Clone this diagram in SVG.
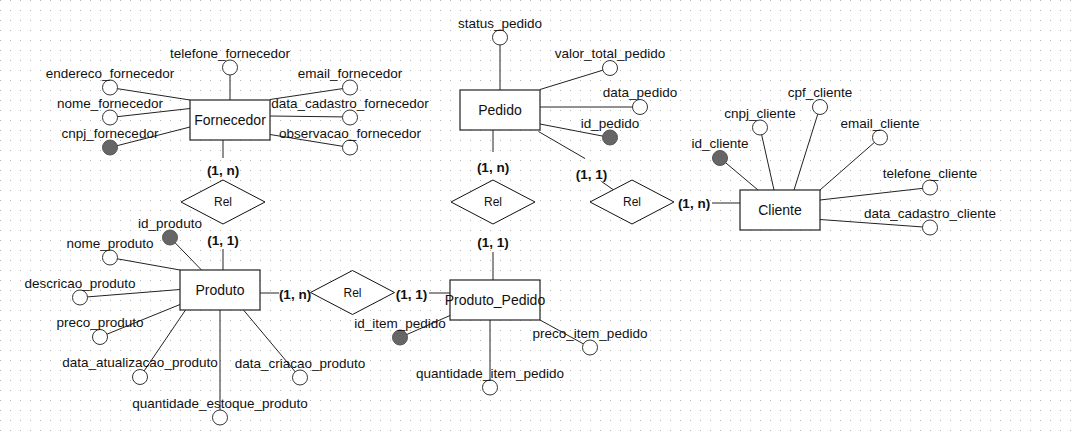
<svg xmlns="http://www.w3.org/2000/svg" width="1075" height="439" viewBox="0 0 1075 439">
<defs>
<pattern id="grid" width="10" height="10" patternUnits="userSpaceOnUse">
<rect x="0" y="0" width="1" height="1" fill="#b4b4b4"/>
</pattern>
<style>
.ln{stroke:#222;stroke-width:1;fill:none}
.box{fill:#fff;stroke:#222;stroke-width:1.2}
.dia{fill:#fff;stroke:#111;stroke-width:1}
.att{fill:#fff;stroke:#333;stroke-width:1}
.key{fill:#666;stroke:#555;stroke-width:1}
text{font-family:"Liberation Sans",Arial,sans-serif;fill:#111}
.al{font-size:13.5px;text-anchor:middle}
.en{font-size:14px;text-anchor:middle}
.rl{font-size:12px;text-anchor:middle}
.cd{font-size:13.5px;font-weight:bold;text-anchor:middle}
</style>
</defs>
<rect width="1075" height="439" fill="#fff"/>
<rect width="1075" height="439" fill="url(#grid)"/>

<g id="connectors">
<!-- relationship lines -->
<line class="ln" x1="223" y1="140" x2="223" y2="158"/>
<line class="ln" x1="223" y1="249" x2="223" y2="270"/>
<line class="ln" x1="260" y1="293" x2="279" y2="293"/>
<line class="ln" x1="429" y1="293" x2="450" y2="293"/>
<line class="ln" x1="493" y1="130" x2="493" y2="152"/>
<line class="ln" x1="493" y1="252" x2="493" y2="280"/>
<line class="ln" x1="538.5" y1="131.5" x2="585" y2="158.5"/>
<line class="ln" x1="601.5" y1="181.5" x2="613" y2="189.5"/>
<line class="ln" x1="712" y1="203" x2="740" y2="203"/>
<!-- Fornecedor attributes -->
<line class="ln" x1="230" y1="67.5" x2="230" y2="100"/>
<line class="ln" x1="110" y1="87.5" x2="190" y2="100"/>
<line class="ln" x1="110" y1="117.5" x2="190" y2="108.5"/>
<line class="ln" x1="110" y1="147.5" x2="190" y2="127"/>
<line class="ln" x1="350" y1="87.5" x2="270" y2="99.5"/>
<line class="ln" x1="350" y1="117" x2="270" y2="116"/>
<line class="ln" x1="350" y1="147.5" x2="270" y2="134.5"/>
<!-- Pedido attributes -->
<line class="ln" x1="500" y1="37.5" x2="500" y2="90"/>
<line class="ln" x1="610" y1="68" x2="540" y2="89.5"/>
<line class="ln" x1="640" y1="107" x2="540" y2="107"/>
<line class="ln" x1="610" y1="137.5" x2="540" y2="124"/>
<!-- Cliente attributes -->
<line class="ln" x1="720" y1="158" x2="758" y2="190"/>
<line class="ln" x1="760" y1="127.5" x2="774" y2="190"/>
<line class="ln" x1="820" y1="107" x2="794" y2="190"/>
<line class="ln" x1="880" y1="137.5" x2="820" y2="190"/>
<line class="ln" x1="930" y1="187.5" x2="820" y2="200"/>
<line class="ln" x1="930" y1="227.5" x2="820" y2="219.5"/>
<!-- Produto attributes -->
<line class="ln" x1="170" y1="237.5" x2="201.5" y2="270"/>
<line class="ln" x1="110" y1="257.5" x2="180" y2="270"/>
<line class="ln" x1="80" y1="297.5" x2="180" y2="289.5"/>
<line class="ln" x1="100" y1="337" x2="180" y2="304.5"/>
<line class="ln" x1="140" y1="377" x2="185.5" y2="310"/>
<line class="ln" x1="220" y1="417.5" x2="220" y2="310"/>
<line class="ln" x1="300" y1="377.5" x2="243.5" y2="310"/>
<!-- Produto_Pedido attributes -->
<line class="ln" x1="400" y1="337.5" x2="450" y2="315.5"/>
<line class="ln" x1="490" y1="387.5" x2="490" y2="320"/>
<line class="ln" x1="590" y1="347.5" x2="540" y2="320"/>
<!-- cardinalities -->
<text class="cd" x="223" y="175">(1, n)</text>
<text class="cd" x="223" y="244.5">(1, 1)</text>
<text class="cd" x="295" y="299">(1, n)</text>
<text class="cd" x="411.5" y="299">(1, 1)</text>
<text class="cd" x="493" y="171.5">(1, n)</text>
<text class="cd" x="493" y="247">(1, 1)</text>
<text class="cd" x="591.5" y="178.5">(1, 1)</text>
<text class="cd" x="694" y="208">(1, n)</text>
</g>

<g id="fornecedor">
<rect class="box" x="190" y="100" width="80" height="40"/>
<text class="en" x="230" y="125">Fornecedor</text>
</g>
<g id="fornecedor-attrs">
<circle class="att" cx="230" cy="67.5" r="7.5"/><text class="al" x="230" y="57.5">telefone_fornecedor</text>
<circle class="att" cx="110" cy="87.5" r="7.5"/><text class="al" x="110" y="77.5">endereco_fornecedor</text>
<circle class="att" cx="110" cy="117.5" r="7.5"/><text class="al" x="110" y="107.5">nome_fornecedor</text>
<circle class="key" cx="110" cy="147.5" r="7.5"/><text class="al" x="110" y="137.5">cnpj_fornecedor</text>
<circle class="att" cx="350" cy="87.5" r="7.5"/><text class="al" x="350" y="77.5">email_fornecedor</text>
<circle class="att" cx="350" cy="117.5" r="7.5"/><text class="al" x="350" y="107.5">data_cadastro_fornecedor</text>
<circle class="att" cx="350" cy="147.5" r="7.5"/><text class="al" x="350" y="137.5">observacao_fornecedor</text>
</g>

<g id="rel1">
<polygon class="dia" points="181,202 223,180 265,202 223,224"/>
<text class="rl" x="223" y="206">Rel</text>
</g>

<g id="produto">
<rect class="box" x="180" y="270" width="80" height="40"/>
<text class="en" x="220" y="295">Produto</text>
</g>
<g id="produto-attrs">
<circle class="key" cx="170" cy="237.5" r="7.5"/><text class="al" x="170" y="227.5">id_produto</text>
<circle class="att" cx="110" cy="257.5" r="7.5"/><text class="al" x="110" y="247.5">nome_produto</text>
<circle class="att" cx="80" cy="297.5" r="7.5"/><text class="al" x="80" y="287.5">descricao_produto</text>
<circle class="att" cx="100" cy="337" r="7.5"/><text class="al" x="100" y="327">preco_produto</text>
<circle class="att" cx="140" cy="377" r="7.5"/><text class="al" x="140" y="367">data_atualizacao_produto</text>
<circle class="att" cx="220" cy="417.5" r="7.5"/><text class="al" x="220" y="407.5">quantidade_estoque_produto</text>
<circle class="att" cx="300" cy="377.5" r="7.5"/><text class="al" x="300" y="367.5">data_criacao_produto</text>
</g>

<g id="rel4">
<polygon class="dia" points="310.5,292.5 352.5,270.5 394.5,292.5 352.5,314.5"/>
<text class="rl" x="352.5" y="296.5">Rel</text>
</g>

<g id="produto_pedido">
<rect class="box" x="450" y="280" width="90" height="40"/>
<text class="en" x="495" y="305">Produto_Pedido</text>
</g>
<g id="produto_pedido-attrs">
<circle class="key" cx="400" cy="337.5" r="7.5"/><text class="al" x="400" y="327.5">id_item_pedido</text>
<circle class="att" cx="490" cy="387.5" r="7.5"/><text class="al" x="490" y="377.5">quantidade_item_pedido</text>
<circle class="att" cx="590" cy="347.5" r="7.5"/><text class="al" x="590" y="337.5">preco_item_pedido</text>
</g>

<g id="rel2">
<polygon class="dia" points="451,202 493,180 535,202 493,224"/>
<text class="rl" x="493" y="206">Rel</text>
</g>

<g id="pedido">
<rect class="box" x="460" y="90" width="80" height="40"/>
<text class="en" x="500" y="115">Pedido</text>
</g>
<g id="pedido-attrs">
<circle class="att" cx="500" cy="37.5" r="7.5"/><text class="al" x="500" y="27.5">status_pedido</text>
<circle class="att" cx="610" cy="68" r="7.5"/><text class="al" x="610" y="58">valor_total_pedido</text>
<circle class="att" cx="640" cy="107" r="7.5"/><text class="al" x="640" y="97">data_pedido</text>
<circle class="key" cx="610" cy="137.5" r="7.5"/><text class="al" x="610" y="127.5">id_pedido</text>
</g>

<g id="rel3">
<polygon class="dia" points="590,202 632,180 674,202 632,224"/>
<text class="rl" x="632" y="206">Rel</text>
</g>

<g id="cliente">
<rect class="box" x="740" y="190" width="80" height="40"/>
<text class="en" x="780" y="215">Cliente</text>
</g>
<g id="cliente-attrs">
<circle class="key" cx="720" cy="158" r="7.5"/><text class="al" x="720" y="148">id_cliente</text>
<circle class="att" cx="760" cy="127.5" r="7.5"/><text class="al" x="760" y="117.5">cnpj_cliente</text>
<circle class="att" cx="820" cy="107" r="7.5"/><text class="al" x="820" y="97">cpf_cliente</text>
<circle class="att" cx="880" cy="137.5" r="7.5"/><text class="al" x="880" y="127.5">email_cliente</text>
<circle class="att" cx="930" cy="187.5" r="7.5"/><text class="al" x="930" y="177.5">telefone_cliente</text>
<circle class="att" cx="930" cy="227.5" r="7.5"/><text class="al" x="930" y="217.5">data_cadastro_cliente</text>
</g>
</svg>
